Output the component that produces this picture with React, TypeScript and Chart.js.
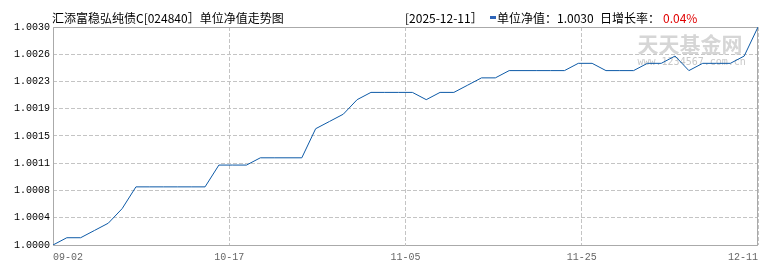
import React, { useEffect, useRef } from 'react';
import { Chart, registerables } from 'chart.js';

Chart.register(...registerables);

// ---- data ----
const navValues = [
  1.0000, 1.0001, 1.0001, 1.0002, 1.0003, 1.0005, 1.0008, 1.0008, 1.0008, 1.0008,
  1.0008, 1.0008, 1.0011, 1.0011, 1.0011, 1.0012, 1.0012, 1.0012, 1.0012, 1.0016,
  1.0017, 1.0018, 1.0020, 1.0021, 1.0021, 1.0021, 1.0021, 1.0020, 1.0021, 1.0021,
  1.0022, 1.0023, 1.0023, 1.0024, 1.0024, 1.0024, 1.0024, 1.0024, 1.0025, 1.0025,
  1.0024, 1.0024, 1.0024, 1.0025, 1.0025, 1.0026, 1.0024, 1.0025, 1.0025, 1.0025,
  1.0026, 1.0030,
];
const xTickLabels = ['09-02', '10-17', '11-05', '11-25', '12-11'];
const yTickLabels = ['1.0000', '1.0004', '1.0008', '1.0011', '1.0015', '1.0019', '1.0023', '1.0026', '1.0030'];
const yMin = 1.0;
const yMax = 1.003;

const titleText = '汇添富稳弘纯债C[024840］单位净值走势图';
const dateText = '[2025-12-11］';
const navLabel = '单位净值：1.0030';
const rateLabel = '日增长率：';
const rateValue = '0.04%';

const framePlugin = {
  id: 'frame',
  beforeDatasetsDraw(chart: any) {
    const { ctx, chartArea } = chart;
    const l = Math.round(chartArea.left) + 0.5;
    const t = Math.round(chartArea.top) + 0.5;
    const r = Math.round(chartArea.right) - 0.5;
    const b = Math.round(chartArea.bottom) + 0.5;
    ctx.save();
    // watermark
    ctx.fillStyle = '#d6d6d6';
    ctx.font = 'bold 21px "Noto Sans CJK SC"';
    ctx.textBaseline = 'middle';
    ctx.textAlign = 'left';
    ctx.fillText('天天基金网', r - 120, t + 17);
    ctx.fillStyle = '#c8c8c8';
    ctx.font = '10px "DejaVu Sans Mono"';
    ctx.fillText('www.1234567.com.cn', r - 120, t + 35);
    // frame
    ctx.strokeStyle = '#aaaaaa';
    ctx.lineWidth = 1;
    ctx.beginPath();
    ctx.moveTo(l, t);
    ctx.lineTo(r, t);
    ctx.lineTo(r, b);
    ctx.lineTo(l, b);
    ctx.closePath();
    ctx.stroke();
    ctx.restore();
  },
};

export default function App() {
  const ref = useRef<HTMLCanvasElement | null>(null);
  useEffect(() => {
    if (!ref.current) return;
    const last = navValues.length - 1;
    const chart = new Chart(ref.current, {
      type: 'line',
      data: {
        datasets: [
          {
            data: navValues.map((v, i) => ({ x: i, y: v })),
            borderColor: '#0d5aa7',
            borderWidth: 1,
            pointRadius: 0,
            tension: 0,
            fill: false,
          },
        ],
      },
      options: {
        animation: false,
        responsive: false,
        maintainAspectRatio: false,
        layout: { padding: { left: 0, right: 12, top: 27, bottom: 0 } },
        plugins: { legend: { display: false }, tooltip: { enabled: false } },
        scales: {
          x: {
            type: 'linear',
            min: 0,
            max: last,
            afterBuildTicks: (s: any) => {
              s.ticks = xTickLabels.map((_, i) => ({ value: (last * i) / (xTickLabels.length - 1) }));
            },
            afterFit: (s: any) => {
              s.height = 25;
            },
            grid: { color: '#c4c4c4', drawTicks: false, lineWidth: 1 },
            border: { display: false, dash: [4, 2] },
            ticks: {
              align: 'inner',
              padding: 6,
              color: '#666666',
              autoSkip: false,
              maxRotation: 0,
              font: { family: '"Liberation Mono"', size: 10 },
              callback: (_v: any, i: number) => xTickLabels[i],
            },
          },
          y: {
            type: 'linear',
            min: yMin,
            max: yMax,
            afterBuildTicks: (s: any) => {
              s.ticks = yTickLabels.map((_, i) => ({
                value: yMin + ((yMax - yMin) * i) / (yTickLabels.length - 1),
              }));
            },
            afterFit: (s: any) => {
              s.width = 53;
            },
            grid: { color: '#c4c4c4', drawTicks: false, lineWidth: 1 },
            border: { display: false, dash: [4, 2] },
            ticks: {
              padding: 3,
              color: '#000000',
              font: { family: '"Liberation Mono"', size: 10 },
              callback: (_v: any, i: number) => yTickLabels[i],
            },
          },
        },
      },
      plugins: [framePlugin],
    });
    return () => chart.destroy();
  }, []);

  const txt: React.CSSProperties = {
    position: 'absolute',
    top: 11,
    fontFamily: '"Noto Sans CJK SC", sans-serif',
    fontSize: 12,
    lineHeight: '14px',
    whiteSpace: 'nowrap',
    color: '#000',
  };

  return (
    <div style={{ position: 'fixed', left: 0, top: 0, width: 770, height: 270, background: '#fff', overflow: 'hidden' }}>
      <canvas ref={ref} width={770} height={270} style={{ position: 'absolute', left: 0, top: 0, display: 'block' }} />
      <span style={{ ...txt, left: 52 }}>{titleText}</span>
      <span style={{ ...txt, left: 405 }}>{dateText}</span>
      <span style={{ position: 'absolute', left: 490, top: 16, width: 6, height: 3, background: '#2d64b8' }} />
      <span style={{ ...txt, left: 497 }}>{navLabel}</span>
      <span style={{ ...txt, left: 600 }}>{rateLabel}</span>
      <span style={{ ...txt, left: 663, color: '#e00000' }}>{rateValue}</span>
    </div>
  );
}
